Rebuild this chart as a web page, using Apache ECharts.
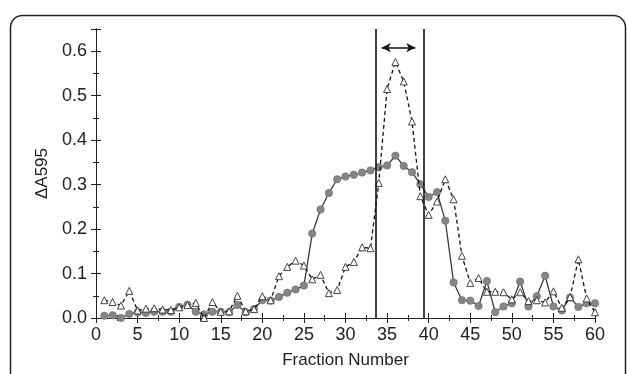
<!DOCTYPE html>
<html>
<head>
<meta charset="utf-8">
<script src="https://cdn.jsdelivr.net/npm/echarts@6/dist/echarts.min.js"></script>
<style>
html,body{margin:0;padding:0;background:#fff;}
#c{width:627px;height:374px;}
</style>
</head>
<body>
<div id="c"></div>
<script>
const fractions = [1,2,3,4,5,6,7,8,9,10,11,12,13,14,15,16,17,18,19,20,21,22,23,24,25,26,27,28,29,30,31,32,33,34,35,36,37,38,39,40,41,42,43,44,45,46,47,48,49,50,51,52,53,54,55,56,57,58,59,60];
const circleSeries = [0.005,0.006,0.0,0.009,0.013,0.011,0.014,0.014,0.014,0.025,0.030,0.014,0.008,0.014,0.014,0.013,0.029,0.013,0.020,0.040,0.039,0.047,0.057,0.064,0.073,0.190,0.244,0.281,0.312,0.318,0.322,0.327,0.332,0.339,0.343,0.365,0.342,0.328,0.301,0.272,0.283,0.219,0.080,0.040,0.039,0.027,0.083,0.013,0.026,0.033,0.082,0.026,0.049,0.095,0.026,0.017,0.046,0.025,0.033,0.033];
const triangleSeries = [0.040,0.036,0.028,0.061,0.017,0.021,0.022,0.019,0.018,0.024,0.029,0.034,0.0,0.036,0.014,0.015,0.050,0.015,0.020,0.049,0.040,0.094,0.115,0.129,0.118,0.087,0.097,0.056,0.063,0.115,0.126,0.159,0.157,0.304,0.515,0.576,0.532,0.442,0.274,0.232,0.262,0.312,0.267,0.140,0.079,0.090,0.059,0.059,0.058,0.042,0.058,0.038,0.040,0.035,0.060,0.023,0.047,0.132,0.044,0.013];
const xTicks = {min:0, max:60, interval:5};
const yTicks = {min:0, max:0.65, interval:0.1};
const windowLines = [33.6, 39.35];
const arrowSpan = [34.35, 38.4, 0.608];

const FONT = "'Liberation Sans',Arial,sans-serif";
const ink = '#222';

const chart = echarts.init(document.getElementById('c'), null, {renderer:'canvas'});
const pairsA = fractions.map((f,i)=>[f, circleSeries[i]]);
const pairsB = fractions.map((f,i)=>[f, triangleSeries[i]]);

const tickCommon = {show:true, inside:true, length:5, lineStyle:{color:ink, width:1}};
const minorCommon = {show:true, splitNumber:2, length:3, lineStyle:{color:ink, width:1}};

chart.setOption({
  animation:false,
  backgroundColor:'#fff',
  graphic:[{
    type:'rect', left:8, top:13, silent:true,
    shape:{x:0, y:0, width:615, height:420, r:12},
    style:{fill:'none', stroke:'#222', lineWidth:1.5}
  }],
  grid:{left:96, right:32, top:29, bottom:56, containLabel:false},
  xAxis:[{
    type:'value', min:xTicks.min, max:xTicks.max, interval:xTicks.interval,
    name:'Fraction Number', nameLocation:'middle', nameGap:34,
    nameTextStyle:{fontFamily:FONT, fontSize:17, color:ink},
    axisLine:{show:true, onZero:false, lineStyle:{color:ink, width:1}},
    axisTick:tickCommon, minorTick:minorCommon,
    axisLabel:{fontFamily:FONT, fontSize:18, color:ink, margin:8},
    splitLine:{show:false}
  },{
    type:'value', position:'top', min:xTicks.min, max:xTicks.max, interval:xTicks.interval,
    axisLine:{show:true, lineStyle:{color:ink, width:1}},
    axisTick:tickCommon, minorTick:minorCommon,
    axisLabel:{show:false}, splitLine:{show:false}
  }],
  yAxis:[{
    type:'value', min:yTicks.min, max:yTicks.max, interval:yTicks.interval,
    name:'\u0394A595', nameLocation:'middle', nameGap:45,
    nameTextStyle:{fontFamily:FONT, fontSize:17, color:ink},
    axisLine:{show:true, lineStyle:{color:ink, width:1}},
    axisTick:tickCommon, minorTick:minorCommon,
    axisLabel:{fontFamily:FONT, fontSize:18, color:ink, margin:9, showMaxLabel:false,
      formatter:v=>v.toFixed(1)},
    splitLine:{show:false}
  },{
    type:'value', position:'right', min:yTicks.min, max:yTicks.max, interval:yTicks.interval,
    axisLine:{show:true, lineStyle:{color:ink, width:1}},
    axisTick:tickCommon, minorTick:minorCommon,
    axisLabel:{show:false}, splitLine:{show:false}
  }],
  series:[{
    type:'line', data:pairsA, xAxisIndex:0, yAxisIndex:0,
    symbol:'circle', symbolSize:7.5,
    lineStyle:{color:'#3a3a3a', width:1.3},
    itemStyle:{color:'#858585', borderColor:'#6a6a6a', borderWidth:0.5},
    z:3,
    markLine:{
      silent:true, symbol:'none', animation:false,
      label:{show:false},
      lineStyle:{color:'#111', width:1.6, type:'solid'},
      data: windowLines.map(x=>({xAxis:x}))
    }
  },{
    type:'line', data:pairsB, xAxisIndex:0, yAxisIndex:0,
    symbol:'triangle', symbolSize:7,
    lineStyle:{color:'#111', width:1.3, type:[4,3]},
    itemStyle:{color:'#ffffff', borderColor:'#333', borderWidth:0.9},
    z:4,
    markLine:{
      silent:true, symbol:['arrow','arrow'], symbolSize:[7,9], animation:false,
      label:{show:false},
      lineStyle:{color:'#111', width:1.6, type:'solid'},
      data:[[{coord:[arrowSpan[0], arrowSpan[2]]},{coord:[arrowSpan[1], arrowSpan[2]]}]]
    }
  }]
});
</script>
</body>
</html>
